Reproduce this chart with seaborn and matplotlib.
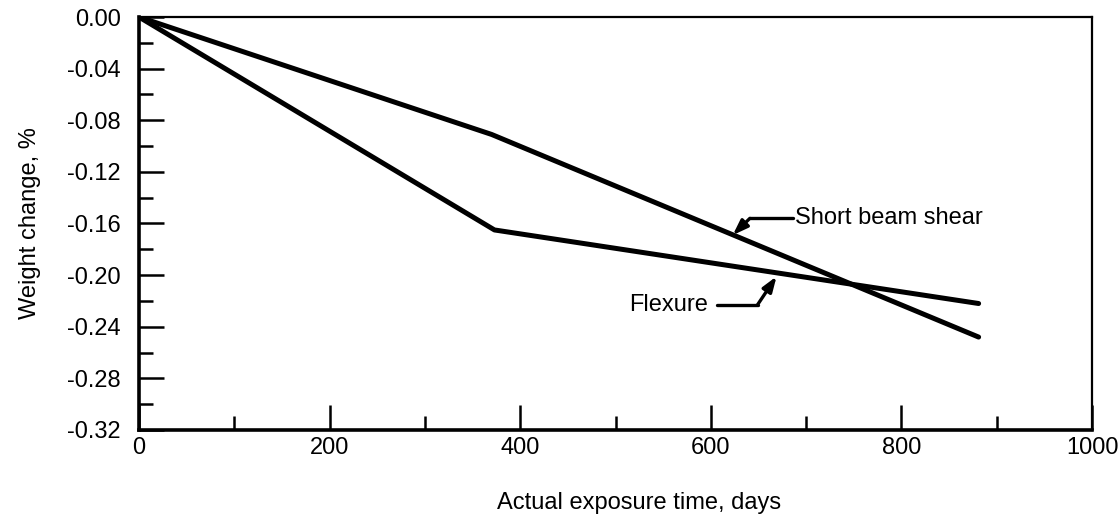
import matplotlib
matplotlib.use("Agg")
import matplotlib.pyplot as plt
from matplotlib.ticker import MultipleLocator, FormatStrFormatter
import seaborn as sns
import pandas as pd

# Exposure time (days) and weight change (%) for the two specimen types
days_sbs = [0, 370, 881]
weight_sbs = [0.0, -0.091, -0.248]
days_flex = [0, 373, 881]
weight_flex = [0.0, -0.165, -0.222]
series_names = ["Short beam shear", "Flexure"]

df = pd.concat([
    pd.DataFrame({"days": days_sbs, "weight": weight_sbs, "specimen": series_names[0]}),
    pd.DataFrame({"days": days_flex, "weight": weight_flex, "specimen": series_names[1]}),
])

sns.set_style("white")
plt.rcParams["font.family"] = ["Liberation Sans", "DejaVu Sans"]
plt.rcParams["axes.unicode_minus"] = False
plt.rcParams["text.color"] = "black"
plt.rcParams["axes.labelcolor"] = "black"

fig = plt.figure(figsize=(11.19, 5.2), dpi=100)
ax = fig.add_axes([0.1242, 0.1731, 0.8517, 0.7942])

sns.lineplot(data=df, x="days", y="weight", hue="specimen",
             palette={n: "black" for n in series_names}, linewidth=3.6,
             legend=False, ax=ax, sort=False)

ax.set_xlim(0, 1000)
ax.set_ylim(-0.32, 0.0)
ax.xaxis.set_major_locator(MultipleLocator(200))
ax.xaxis.set_minor_locator(MultipleLocator(100))
ax.yaxis.set_major_locator(MultipleLocator(0.04))
ax.yaxis.set_minor_locator(MultipleLocator(0.02))
ax.yaxis.set_major_formatter(FormatStrFormatter("%.2f"))

ax.tick_params(axis="both", which="both", bottom=True, left=True,
               top=False, right=False, direction="in",
               colors="black", labelcolor="black")
ax.tick_params(axis="both", which="major", length=18, width=1.8, labelsize=17)
ax.tick_params(axis="both", which="minor", length=10, width=1.8)
ax.tick_params(axis="y", which="major", pad=13)
ax.tick_params(axis="x", which="major", pad=5)

for side in ["left", "bottom"]:
    ax.spines[side].set_linewidth(2.6)
for side in ["top", "right"]:
    ax.spines[side].set_linewidth(1.6)
for s in ax.spines.values():
    s.set_color("black")

ax.set_xlabel("Actual exposure time, days", fontsize=17, color="black")
ax.xaxis.set_label_coords(0.525, -0.15)
ax.set_ylabel("Weight change, %", fontsize=17, color="black")
ax.yaxis.set_label_coords(-0.103, 0.5)

# Callout labels with leader arrows
arrow_style = "-|>,head_length=0.9,head_width=0.32"
ax.text(688, -0.156, "Short beam shear", fontsize=17, ha="left", va="center",
        color="black")
ax.plot([641, 686], [-0.156, -0.156], color="black", lw=2.4)
ax.annotate("", xy=(623, -0.169), xytext=(641, -0.156),
            arrowprops=dict(arrowstyle=arrow_style,
                            lw=2.4, color="black", shrinkA=0, shrinkB=0))

ax.text(597, -0.223, "Flexure", fontsize=17, ha="right", va="center",
        color="black")
ax.plot([607, 649], [-0.223, -0.223], color="black", lw=2.4)
ax.annotate("", xy=(669, -0.201), xytext=(649, -0.223),
            arrowprops=dict(arrowstyle=arrow_style,
                            lw=2.4, color="black", shrinkA=0, shrinkB=0))

fig.savefig("out.png", dpi=100)
